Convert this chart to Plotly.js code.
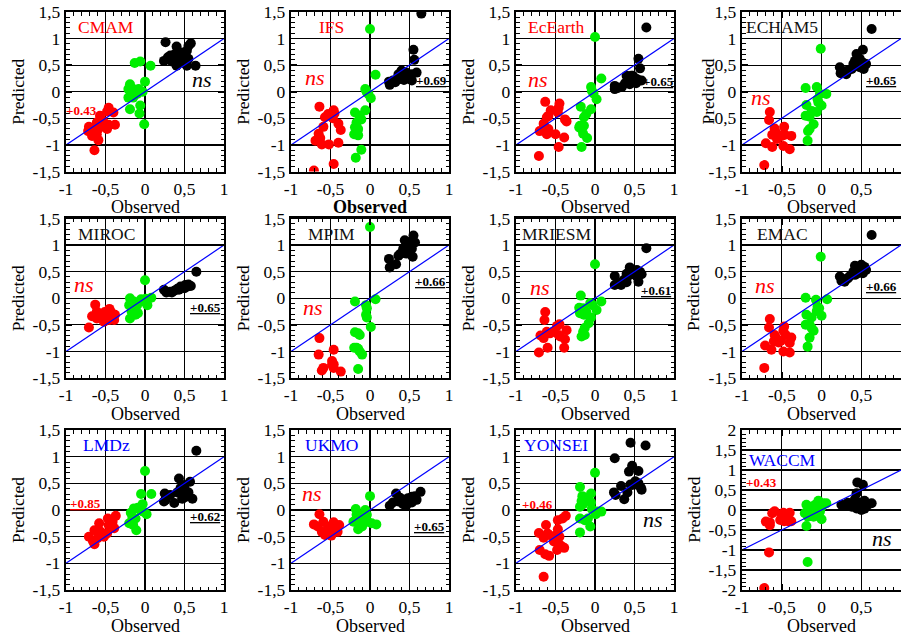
<!DOCTYPE html>
<html><head><meta charset="utf-8">
<script src="https://cdn.plot.ly/plotly-3.0.1.min.js"></script>
<style>html,body{margin:0;padding:0;background:#fff}#chart{width:901px;height:640px}</style>
</head><body><div id="chart"></div>
<script>
// ---------------- DATA ----------------
const models = ['CMAM','IFS','EcEarth','ECHAM5','MIROC','MPIM','MRIESM','EMAC','LMDz','UKMO','YONSEI','WACCM'];

const cmamRed = [[-0.46,-0.30],[-0.40,-0.39],[-0.48,-0.37],[-0.57,-0.45],[-0.61,-0.58],[-0.53,-0.55],[-0.46,-0.62],[-0.38,-0.62],[-0.48,-0.70],[-0.59,-0.70],[-0.69,-0.70],[-0.72,-0.74],[-0.61,-0.80],[-0.67,-0.83],[-0.59,-0.91],[-0.64,-1.10],[-0.71,-0.66],[-0.55,-0.62]];
const cmamGreen = [[-0.13,0.54],[-0.06,0.57],[0.07,0.49],[0,0.19],[-0.19,0.14],[-0.21,0.05],[-0.15,0.05],[-0.08,0.05],[-0.13,0.0],[-0.17,-0.03],[-0.21,-0.11],[-0.10,-0.04],[-0.03,0.0],[-0.06,-0.26],[-0.19,-0.33],[-0.07,-0.41],[-0.01,-0.61],[-0.15,-0.11]];
const cmamBlack = [[0.26,0.93],[0.24,0.58],[0.32,0.68],[0.40,0.85],[0.46,0.74],[0.38,0.71],[0.47,0.68],[0.53,0.77],[0.58,0.91],[0.55,0.86],[0.44,0.62],[0.40,0.49],[0.53,0.49],[0.55,0.62],[0.64,0.49],[0.48,0.55],[0.34,0.57],[0.29,0.65]];

const ifsRed = [[-0.64,-0.28],[-0.46,-0.35],[-0.57,-0.48],[-0.59,-0.66],[-0.47,-0.50],[-0.40,-0.60],[-0.37,-0.72],[-0.65,-0.79],[-0.63,-0.87],[-0.69,-0.92],[-0.61,-0.99],[-0.52,-0.99],[-0.40,-0.96],[-0.46,-1.36],[-0.71,-1.48],[-0.53,-0.42],[-0.45,-0.41]];
const ifsGreen = [[0,1.18],[0.07,0.32],[-0.06,0.05],[-0.04,-0.01],[-0.02,-0.04],[0.01,-0.12],[-0.06,-0.35],[-0.19,-0.39],[-0.13,-0.45],[-0.11,-0.52],[-0.17,-0.58],[-0.19,-0.67],[-0.15,-0.70],[-0.20,-0.80],[-0.15,-0.82],[-0.11,-1.09],[-0.18,-1.24],[-0.16,-0.75]];
const ifsBlack = [[0.65,1.47],[0.55,0.79],[0.56,0.60],[0.24,0.19],[0.25,0.13],[0.32,0.18],[0.38,0.24],[0.40,0.40],[0.46,0.36],[0.43,0.22],[0.48,0.27],[0.53,0.33],[0.59,0.36],[0.53,0.21],[0.36,0.33],[0.44,0.30],[0.50,0.24],[0.29,0.21]];

const ecearthRed = [[-0.63,-0.19],[-0.45,-0.22],[-0.56,-0.35],[-0.46,-0.30],[-0.59,-0.45],[-0.61,-0.48],[-0.47,-0.39],[-0.38,-0.52],[-0.36,-0.56],[-0.65,-0.60],[-0.70,-0.74],[-0.61,-0.80],[-0.50,-0.80],[-0.39,-0.86],[-0.46,-1.04],[-0.71,-1.21],[-0.59,-0.70]];
const ecearthGreen = [[0,1.03],[0.08,0.25],[-0.05,0.09],[-0.04,0.02],[-0.02,-0.03],[0.02,-0.14],[-0.18,-0.28],[-0.05,-0.33],[-0.11,-0.42],[-0.14,-0.48],[-0.19,-0.64],[-0.14,-0.64],[-0.17,-0.70],[-0.15,-0.79],[-0.10,-0.87],[-0.17,-1.04],[-0.20,-0.67]];
const ecearthBlack = [[0.65,1.21],[0.55,0.62],[0.57,0.44],[0.25,0.11],[0.25,0.05],[0.34,0.09],[0.40,0.30],[0.42,0.21],[0.46,0.30],[0.48,0.21],[0.44,0.14],[0.53,0.24],[0.56,0.21],[0.59,0.21],[0.52,0.16],[0.38,0.16],[0.29,0.07],[0.48,0.30]];

const echam5Red = [[-0.65,-0.38],[-0.66,-0.53],[-0.59,-0.69],[-0.47,-0.66],[-0.57,-0.77],[-0.62,-0.81],[-0.54,-0.83],[-0.50,-0.83],[-0.46,-0.81],[-0.38,-0.83],[-0.70,-0.97],[-0.62,-1.04],[-0.48,-1.02],[-0.40,-1.08],[-0.72,-1.38],[-0.56,-0.89]];
const echam5Green = [[-0.01,0.81],[-0.20,0.07],[-0.06,0.09],[0.06,-0.04],[-0.05,-0.14],[-0.19,-0.25],[-0.04,-0.20],[0,-0.26],[-0.125,-0.36],[-0.06,-0.38],[-0.20,-0.45],[-0.15,-0.47],[-0.10,-0.61],[-0.15,-0.70],[-0.17,-0.74],[-0.175,-0.92],[-0.02,-0.04]];
const echam5Black = [[0.63,1.18],[0.52,0.79],[0.44,0.71],[0.48,0.62],[0.42,0.58],[0.52,0.55],[0.56,0.52],[0.23,0.46],[0.24,0.35],[0.29,0.38],[0.33,0.40],[0.38,0.43],[0.44,0.49],[0.48,0.46],[0.53,0.43],[0.40,0.52],[0.31,0.33],[0.50,0.49]];

const mirocRed = [[-0.63,-0.12],[-0.45,-0.20],[-0.67,-0.34],[-0.61,-0.25],[-0.56,-0.31],[-0.51,-0.26],[-0.48,-0.31],[-0.43,-0.26],[-0.38,-0.31],[-0.53,-0.38],[-0.45,-0.41],[-0.39,-0.41],[-0.61,-0.38],[-0.71,-0.55],[-0.52,-0.44]];
const mirocGreen = [[0,0.34],[-0.19,0],[-0.05,-0.02],[0.08,0.01],[-0.20,-0.13],[-0.14,-0.06],[-0.10,-0.13],[-0.02,-0.06],[0.03,-0.13],[-0.14,-0.22],[-0.09,-0.28],[-0.19,-0.38],[-0.17,-0.25],[-0.12,-0.31],[0.01,-0.01]];
const mirocBlack = [[0.65,0.50],[0.24,0.16],[0.27,0.11],[0.32,0.12],[0.37,0.14],[0.41,0.18],[0.45,0.22],[0.48,0.21],[0.51,0.25],[0.54,0.22],[0.58,0.23],[0.50,0.19],[0.43,0.16],[0.34,0.11],[0.55,0.26]];

const mpimRed = [[-0.64,-0.75],[-0.65,-1.06],[-0.46,-0.97],[-0.48,-1.18],[-0.46,-1.24],[-0.59,-1.31],[-0.61,-1.36],[-0.46,-1.31],[-0.37,-1.38],[-0.48,-1.25]];
const mpimGreen = [[0,1.34],[0.07,-0.02],[-0.19,-0.06],[-0.05,-0.13],[-0.04,-0.19],[-0.05,-0.31],[-0.04,-0.36],[0.01,-0.54],[-0.19,-0.64],[-0.15,-0.66],[-0.13,-0.69],[-0.20,-0.93],[-0.15,-0.95],[-0.13,-1.0],[-0.10,-1.06],[-0.15,-1.33],[-0.17,-0.93]];
const mpimBlack = [[0.55,1.18],[0.44,1.09],[0.50,1.06],[0.57,1.05],[0.46,1.01],[0.42,0.93],[0.53,0.93],[0.47,0.91],[0.42,0.88],[0.38,0.83],[0.36,0.80],[0.54,0.78],[0.24,0.74],[0.33,0.64],[0.25,0.58],[0.46,0.84],[0.44,0.91]];

const mriesmRed = [[-0.63,-0.26],[-0.64,-0.41],[-0.48,-0.52],[-0.45,-0.49],[-0.36,-0.60],[-0.61,-0.63],[-0.57,-0.66],[-0.69,-0.70],[-0.65,-0.75],[-0.46,-0.69],[-0.44,-0.72],[-0.38,-0.77],[-0.60,-0.93],[-0.39,-0.93],[-0.71,-1.02],[-0.53,-0.63]];
const mriesmGreen = [[0,0.64],[-0.18,0.05],[0.08,-0.06],[-0.06,-0.09],[-0.03,-0.13],[0.02,-0.22],[-0.20,-0.18],[-0.15,-0.19],[-0.19,-0.28],[-0.14,-0.31],[-0.11,-0.26],[-0.05,-0.36],[-0.08,-0.47],[-0.13,-0.56],[-0.15,-0.63],[-0.17,-0.72],[-0.13,-0.69]];
const mriesmBlack = [[0.65,0.94],[0.25,0.42],[0.44,0.58],[0.40,0.46],[0.47,0.47],[0.53,0.53],[0.57,0.50],[0.59,0.45],[0.51,0.44],[0.44,0.44],[0.40,0.39],[0.36,0.34],[0.29,0.28],[0.25,0.25],[0.33,0.25],[0.40,0.30],[0.53,0.41],[0.55,0.31]];

const emacRed = [[-0.65,-0.39],[-0.66,-0.55],[-0.47,-0.53],[-0.59,-0.69],[-0.48,-0.61],[-0.45,-0.69],[-0.38,-0.74],[-0.54,-0.83],[-0.51,-0.80],[-0.60,-0.81],[-0.40,-0.84],[-0.71,-0.89],[-0.63,-0.97],[-0.48,-1.0],[-0.40,-1.02],[-0.72,-1.31],[-0.57,-0.75]];
const emacGreen = [[-0.01,0.78],[-0.20,0.01],[-0.07,-0.03],[0.07,-0.02],[-0.05,-0.16],[-0.06,-0.24],[0,-0.33],[-0.19,-0.31],[-0.125,-0.36],[-0.20,-0.50],[-0.15,-0.50],[-0.125,-0.56],[-0.10,-0.61],[-0.15,-0.74],[-0.175,-0.91],[-0.03,-0.19]];
const emacBlack = [[0.63,1.19],[0.23,0.41],[0.25,0.33],[0.31,0.36],[0.35,0.41],[0.42,0.61],[0.45,0.56],[0.40,0.50],[0.50,0.63],[0.54,0.59],[0.56,0.53],[0.52,0.47],[0.46,0.47],[0.42,0.44],[0.48,0.53],[0.33,0.37],[0.29,0.31]];

const lmdzRed = [[-0.37,-0.11],[-0.47,-0.16],[-0.41,-0.22],[-0.58,-0.25],[-0.46,-0.28],[-0.39,-0.34],[-0.64,-0.38],[-0.56,-0.41],[-0.48,-0.44],[-0.52,-0.50],[-0.71,-0.50],[-0.66,-0.58],[-0.64,-0.64],[-0.60,-0.53],[-0.43,-0.23]];
const lmdzGreen = [[0,0.73],[-0.05,0.30],[0.08,0.30],[-0.18,-0.05],[-0.14,0.03],[-0.09,0.04],[-0.03,0.11],[-0.06,0],[0.02,-0.08],[-0.16,-0.13],[-0.20,-0.25],[-0.15,-0.28],[-0.11,-0.38],[-0.12,-0.16],[-0.02,-0.03]];
const lmdzBlack = [[0.65,1.11],[0.43,0.59],[0.45,0.41],[0.41,0.33],[0.47,0.36],[0.53,0.34],[0.57,0.53],[0.50,0.47],[0.55,0.33],[0.52,0.25],[0.60,0.21],[0.48,0.22],[0.25,0.31],[0.32,0.28],[0.24,0.16],[0.26,0.19],[0.37,0.13],[0.47,0.21]];

const ukmoRed = [[-0.64,-0.08],[-0.71,-0.27],[-0.59,-0.22],[-0.66,-0.31],[-0.46,-0.23],[-0.39,-0.28],[-0.53,-0.31],[-0.44,-0.34],[-0.61,-0.41],[-0.57,-0.47],[-0.51,-0.44],[-0.46,-0.41],[-0.41,-0.41],[-0.49,-0.48]];
const ukmoGreen = [[0,0.26],[-0.18,0.02],[-0.06,0],[-0.17,-0.09],[-0.13,-0.09],[-0.04,-0.09],[-0.15,-0.19],[-0.08,-0.22],[-0.03,-0.22],[0.02,-0.25],[0.08,-0.27],[-0.15,-0.36],[-0.10,-0.31],[-0.21,-0.22]];
const ukmoBlack = [[0.64,0.34],[0.33,0.31],[0.25,0.08],[0.38,0.23],[0.44,0.19],[0.48,0.22],[0.53,0.25],[0.57,0.26],[0.59,0.19],[0.48,0.13],[0.42,0.11],[0.46,0.09],[0.53,0.14],[0.36,0.16],[0.29,0.14]];

const yonseiRed = [[-0.37,-0.11],[-0.41,-0.16],[-0.47,-0.19],[-0.62,-0.28],[-0.47,-0.36],[-0.71,-0.43],[-0.60,-0.44],[-0.58,-0.47],[-0.65,-0.52],[-0.49,-0.47],[-0.52,-0.59],[-0.47,-0.63],[-0.43,-0.67],[-0.39,-0.71],[-0.48,-0.75],[-0.70,-0.75],[-0.63,-0.83],[-0.58,-0.86],[-0.65,-1.25],[-0.45,-0.50]];
const yonseiGreen = [[0,0.70],[-0.19,0.43],[-0.05,0.31],[-0.16,0.26],[-0.13,0.23],[-0.11,0.19],[-0.17,0.17],[-0.15,0.11],[-0.19,0.06],[-0.05,0.14],[-0.04,0.02],[0.03,-0.03],[0.08,-0.03],[0.01,-0.08],[-0.19,-0.16],[-0.13,-0.19],[-0.09,-0.16],[-0.06,-0.31],[-0.19,-0.42]];
const yonseiBlack = [[0.45,1.26],[0.64,1.21],[0.25,0.97],[0.47,0.83],[0.43,0.72],[0.55,0.73],[0.51,0.54],[0.55,0.50],[0.47,0.47],[0.58,0.42],[0.33,0.45],[0.52,0.48],[0.59,0.38],[0.24,0.33],[0.41,0.33],[0.26,0.28],[0.37,0.20],[0.45,0.48]];

const waccmRed = [[-0.59,-0.03],[-0.62,-0.08],[-0.48,-0.07],[-0.40,-0.07],[-0.44,-0.13],[-0.50,-0.17],[-0.52,-0.25],[-0.70,-0.29],[-0.65,-0.38],[-0.42,-0.28],[-0.38,-0.28],[-0.47,-0.28],[-0.65,-0.31],[-0.66,-1.06],[-0.72,-1.95]];
const waccmGreen = [[-0.04,0.23],[-0.19,0.13],[0.06,0.17],[-0.125,0.08],[-0.08,0.13],[0,0.08],[0.02,0.17],[-0.21,-0.08],[-0.17,-0.04],[-0.125,-0.04],[-0.06,-0.08],[-0.10,-0.17],[-0.17,-0.17],[0,-0.23],[-0.19,-0.40],[-0.175,-1.30],[-0.02,-0.04]];
const waccmBlack = [[0.45,0.69],[0.52,0.63],[0.44,0.42],[0.42,0.27],[0.25,0.13],[0.33,0.18],[0.40,0.14],[0.46,0.17],[0.50,0.19],[0.54,0.23],[0.63,0.17],[0.58,0.13],[0.48,0.08],[0.44,0.04],[0.50,0],[0.54,0.03],[0.29,0.11],[0.38,0.08]];

// correlation labels for the low (red) and high (black) groups; '' = none
const lowCorr  = ['+0.43','','','','','','','','+0.85','','+0.46','+0.43'];
const lowSig   = [false,false,false,false,false,false,false,false,true,false,false,false];
const highCorr = ['','+0.69','+0.65','+0.65','+0.65','+0.66','+0.61','+0.66','+0.62','+0.65','',''];
// which group is marked "ns"
const nsGroup  = ['high','low','low','low','low','low','low','low','','low','high','high'];

// 1:1 reference line
const oneToOneX = [-1, 1];
const oneToOneY = [-1, 1];

// tick labels
const xTickVals = [-1,-0.5,0,0.5,1];
const xTickText = ['-1','-0,5','0','0,5','1'];
const yTickVals = [-1.5,-1,-0.5,0,0.5,1,1.5];
const yTickText = ['-1,5','-1','-0,5','0','0,5','1','1,5'];
const yTickValsWide = [-2,-1.5,-1,-0.5,0,0.5,1,1.5,2];
const yTickTextWide = ['-2','-1,5','-1','-0,5','0','0,5','1','1,5','2'];

const xTitle = 'Observed';
const yTitle = 'Predicted';

// ---------------- BUILD ----------------
const groups = [
  [cmamRed,cmamGreen,cmamBlack],[ifsRed,ifsGreen,ifsBlack],[ecearthRed,ecearthGreen,ecearthBlack],[echam5Red,echam5Green,echam5Black],
  [mirocRed,mirocGreen,mirocBlack],[mpimRed,mpimGreen,mpimBlack],[mriesmRed,mriesmGreen,mriesmBlack],[emacRed,emacGreen,emacBlack],
  [lmdzRed,lmdzGreen,lmdzBlack],[ukmoRed,ukmoGreen,ukmoBlack],[yonseiRed,yonseiGreen,yonseiBlack],[waccmRed,waccmGreen,waccmBlack]
];

// styles & placement
const FONT = 'Liberation Serif, Times New Roman, Times, serif';
const groupColors = ['#ff0000','#00ee00','#000000'];
const nameColors = ['#ff0000','#ff0000','#ff0000','#111111','#111111','#111111','#111111','#111111','#0000ff','#0000ff','#0000ff','#0000ff'];
const W = 901, H = 640;
const colPx = [[66,224],[291,449],[516,674],[742,901]];
const rowPx = [[12,171.5],[218.5,378],[430,590]];
// label placements (data coordinates of each panel)
const nsPlace   = [[0.72,0.2],[-0.70,0.23],[-0.725,0.2],[-0.76,-0.14],[-0.77,0.22],[-0.72,-0.22],[-0.70,0.16],[-0.71,0.2],null,[-0.73,0.28],[0.73,-0.21],[0.76,-0.77]];
const lowPlace  = [[-0.80,-0.35],null,null,null,null,null,null,null,[-0.75,0.12],null,[-0.73,0.10],[-0.75,0.69]];
const highPlace = [null,[0.78,0.22],[0.80,0.2],[0.76,0.21],[0.77,-0.18],[0.76,0.32],[0.77,0.14],[0.76,0.23],[0.76,-0.13],[0.75,-0.3],null,null];
const yTitleOffset = [48,48,48,34,48,48,48,48,48,48,48,48];

const data = [];
const layout = {
  width: W, height: H,
  margin: {l:0,r:0,t:0,b:0},
  paper_bgcolor: '#fff', plot_bgcolor: '#fff',
  showlegend: false,
  font: {family: FONT, color: '#000'},
  annotations: []
};

models.forEach((m, i) => {
  const row = Math.floor(i/4), col = i % 4;
  const xa = i === 0 ? 'x' : 'x' + (i+1);
  const ya = i === 0 ? 'y' : 'y' + (i+1);
  const xk = i === 0 ? 'xaxis' : 'xaxis' + (i+1);
  const yk = i === 0 ? 'yaxis' : 'yaxis' + (i+1);
  const wide = (m === 'WACCM');

  groups[i].forEach((pts, g) => {
    data.push({
      type: 'scatter', mode: 'markers', xaxis: xa, yaxis: ya,
      x: pts.map(p => p[0]), y: pts.map(p => p[1]),
      marker: {color: groupColors[g], size: 10, line: {width: 0}},
      hoverinfo: 'skip'
    });
  });
  data.push({
    type: 'scatter', mode: 'lines', xaxis: xa, yaxis: ya,
    x: oneToOneX, y: oneToOneY,
    line: {color: '#0000ff', width: 1.2}, hoverinfo: 'skip'
  });

  const common = {
    ticks: 'inside', ticklen: 6, tickwidth: 1.5, tickcolor: '#000',
    minor: {tickmode: 'linear', tick0: 0, dtick: 0.1, ticks: 'inside', ticklen: 3.5, tickwidth: 1, tickcolor: '#000', showgrid: false},
    showline: true, linewidth: 2.2, linecolor: '#000',
    showgrid: true, gridcolor: '#000', gridwidth: 1.3,
    zeroline: true, zerolinecolor: '#000', zerolinewidth: 1.3,
    tickfont: {family: FONT, size: 17.5, color: '#000'},
    fixedrange: true, tickmode: 'array'
  };
  const cx = colPx[col], ry = rowPx[row];
  layout[xk] = Object.assign({}, common, {
    domain: [cx[0]/W, Math.min(1, cx[1]/W)],
    range: col === 3 ? [-1, 0.999] : [-1, 1],
    anchor: ya, mirror: 'allticks',
    tickvals: xTickVals, ticktext: xTickText
  });
  layout[yk] = Object.assign({}, common, {
    domain: [1 - ry[1]/H, 1 - ry[0]/H],
    range: wide ? [-2, 2] : [-1.5, 1.5],
    anchor: xa, mirror: col === 3 ? false : 'allticks',
    tickvals: wide ? yTickValsWide : yTickVals,
    ticktext: wide ? yTickTextWide : yTickText
  });

  const xd = xa + ' domain', yd = ya + ' domain';
  // axis titles
  layout.annotations.push({
    xref: xd, yref: yd, x: 0.5, y: -0.225, xanchor: 'center', yanchor: 'middle',
    text: (i === 1 ? '<b>' + xTitle + '</b>' : xTitle), showarrow: false,
    font: {family: FONT, size: 18, color: '#000'}
  });
  layout.annotations.push({
    xref: xd, yref: yd, x: -yTitleOffset[i]/158, y: 0.5, xanchor: 'center', yanchor: 'middle',
    text: yTitle, textangle: -90, showarrow: false,
    font: {family: FONT, size: 17.5, color: '#000'}
  });
  // model name
  layout.annotations.push({
    xref: xd, yref: yd, x: 40/158, y: wide ? 0.81 : 0.905, xanchor: 'center', yanchor: 'middle',
    text: m, showarrow: false, font: {family: FONT, size: 17.5, color: nameColors[i]}
  });
  // ns label
  if (nsGroup[i]) {
    layout.annotations.push({
      xref: xa, yref: ya, x: nsPlace[i][0], y: nsPlace[i][1], xanchor: 'center', yanchor: 'middle', yshift: 2,
      text: '<i>ns</i>', showarrow: false,
      font: {family: FONT, size: 22, color: nsGroup[i] === 'low' ? '#ff0000' : '#000'}
    });
  }
  const u = t => '<span style="text-decoration:underline">' + t + '</span>';
  if (lowCorr[i]) {
    layout.annotations.push({
      xref: xa, yref: ya, x: lowPlace[i][0], y: lowPlace[i][1], xanchor: 'center', yanchor: 'middle',
      text: '<b>' + (lowSig[i] ? u(lowCorr[i]) : lowCorr[i]) + '</b>', showarrow: false,
      font: {family: FONT, size: 13, color: '#ff0000'}
    });
  }
  if (highCorr[i]) {
    layout.annotations.push({
      xref: xa, yref: ya, x: highPlace[i][0], y: highPlace[i][1], xanchor: 'center', yanchor: 'middle',
      text: '<b>' + u(highCorr[i]) + '</b>', showarrow: false,
      font: {family: FONT, size: 13, color: '#000'}
    });
  }
});

Plotly.newPlot('chart', data, layout, {staticPlot: true, displayModeBar: false});
</script>
</body></html>
